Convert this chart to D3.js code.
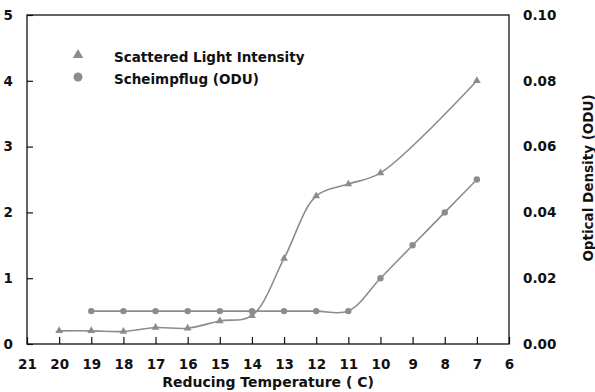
<!DOCTYPE html>
<html>
<head>
<meta charset="utf-8">
<script src="https://cdn.jsdelivr.net/npm/d3@7"></script>
<style>
  html, body { margin: 0; padding: 0; background: #fff; }
  svg text { font-family: "DejaVu Sans", sans-serif; font-weight: bold; fill: #111; }
</style>
</head>
<body>
<svg id="chart" width="595" height="392"></svg>
<script>
// Reducing temperature (C) for each series
const scatterTemps = [20, 19, 18, 17, 16, 15, 14, 13, 12, 11, 10, 7];
const scatterValues = [0.2, 0.2, 0.19, 0.25, 0.24, 0.35, 0.43, 1.3, 2.25, 2.43, 2.6, 4.0];

const odTemps = [19, 18, 17, 16, 15, 14, 13, 12, 11, 10, 9, 8, 7];
const odValues = [0.01, 0.01, 0.01, 0.01, 0.01, 0.01, 0.01, 0.01, 0.01, 0.02, 0.03, 0.04, 0.05];

const xTicks = [21, 20, 19, 18, 17, 16, 15, 14, 13, 12, 11, 10, 9, 8, 7, 6];
const leftTicks = [0, 1, 2, 3, 4, 5];
const rightTicks = [0, 0.02, 0.04, 0.06, 0.08, 0.10];

const legendLabels = ["Scattered Light Intensity", "Scheimpflug (ODU)"];
const xTitle = "Reducing Temperature ( C)";
const rightTitle = "Optical Density (ODU)";

const svg = d3.select("#chart");
const m = { left: 27, right: 509, top: 15, bottom: 344 };
const grey = "#8c8c8c";

const x = d3.scaleLinear().domain([21, 6]).range([m.left, m.right]);
const yL = d3.scaleLinear().domain([0, 5]).range([m.bottom, m.top]);
const yR = d3.scaleLinear().domain([0, 0.10]).range([m.bottom, m.top]);

// frame
svg.append("rect")
  .attr("x", m.left).attr("y", m.top)
  .attr("width", m.right - m.left).attr("height", m.bottom - m.top)
  .attr("fill", "none").attr("stroke", "#111").attr("stroke-width", 1.3);

// bottom axis: inward ticks, labels below
const xAxis = svg.append("g").attr("transform", `translate(0,${m.bottom})`)
  .call(d3.axisBottom(x).tickValues(xTicks).tickSizeInner(-7).tickSizeOuter(0).tickPadding(15));
xAxis.select(".domain").remove();
xAxis.selectAll("line").attr("stroke", "#111").attr("stroke-width", 1.2);
xAxis.selectAll("text").attr("font-size", 13.5).attr("fill", "#111")
  .attr("font-family", "DejaVu Sans").attr("font-weight", "bold");

// left axis: inward ticks
const lAxis = svg.append("g").attr("transform", `translate(${m.left},0)`)
  .call(d3.axisLeft(yL).tickValues(leftTicks).tickSizeInner(-6).tickSizeOuter(0)
    .tickFormat(d3.format("d")).tickPadding(14));
lAxis.select(".domain").remove();
lAxis.selectAll("line").attr("stroke", "#111").attr("stroke-width", 1.2);
lAxis.selectAll("text").attr("font-size", 13.5).attr("fill", "#111")
  .attr("font-family", "DejaVu Sans").attr("font-weight", "bold");

// right axis: labels only
const rAxis = svg.append("g").attr("transform", `translate(${m.right},0)`)
  .call(d3.axisRight(yR).tickValues(rightTicks).tickSize(0)
    .tickFormat(d3.format(".2f")).tickPadding(14));
rAxis.select(".domain").remove();
rAxis.selectAll("text").attr("font-size", 13.5).attr("fill", "#111")
  .attr("font-family", "DejaVu Sans").attr("font-weight", "bold");

// axis titles
svg.append("text").attr("x", (m.left + m.right) / 2).attr("y", 387)
  .attr("text-anchor", "middle").attr("font-size", 14).text(xTitle);
svg.append("text")
  .attr("transform", `translate(593,178) rotate(-90)`)
  .attr("text-anchor", "middle").attr("font-size", 13.5).text(rightTitle);

// series lines (smoothed through the measured points)
const scatterData = scatterTemps.map((t, i) => [t, scatterValues[i]]);
const odData = odTemps.map((t, i) => [t, odValues[i]]);

const smooth = d3.curveCatmullRom.alpha(0.5);
const lineL = d3.line().x(d => x(d[0])).y(d => yL(d[1])).curve(smooth);
const lineR = d3.line().x(d => x(d[0])).y(d => yR(d[1])).curve(smooth);

svg.append("path").datum(odData).attr("d", lineR)
  .attr("fill", "none").attr("stroke", grey).attr("stroke-width", 1.6);
svg.append("path").datum(scatterData).attr("d", lineL)
  .attr("fill", "none").attr("stroke", grey).attr("stroke-width", 1.6);

const tri = d3.symbol().type(d3.symbolTriangle);
svg.selectAll(".tri").data(scatterData).join("path")
  .attr("class", "tri")
  .attr("transform", d => `translate(${x(d[0])},${yL(d[1])})`)
  .attr("d", tri.size(26)()).attr("fill", grey);

svg.selectAll(".dot").data(odData).join("circle")
  .attr("class", "dot")
  .attr("cx", d => x(d[0])).attr("cy", d => yR(d[1])).attr("r", 3.2)
  .attr("fill", grey);

// legend
const lg = svg.append("g");
lg.append("path").attr("transform", "translate(78,55)")
  .attr("d", d3.symbol().type(d3.symbolTriangle).size(48)()).attr("fill", grey);
lg.append("circle").attr("cx", 78).attr("cy", 77).attr("r", 4.5).attr("fill", grey);
lg.selectAll("text").data(legendLabels).join("text")
  .attr("x", 114).attr("y", (d, i) => 62 + i * 21.5)
  .attr("font-size", 13.5).text(d => d);
</script>
</body>
</html>
